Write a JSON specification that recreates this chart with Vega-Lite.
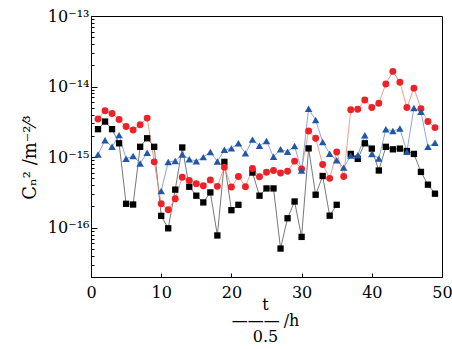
{
  "$schema": "https://vega.github.io/schema/vega-lite/v6.json",
  "width": 351,
  "height": 261,
  "autosize": {"type": "none"},
  "padding": {"left": 91, "top": 16, "right": 10, "bottom": 72},
  "background": "white",
  "config": {"view": {"stroke": "black", "strokeWidth": 1}, "font": "DejaVu Serif", "legend": {"disable": false}},
  "data": {"values": [
    {"t":1,"L":2.49e-15,"C":3.46e-15,"S":1.09e-15},
    {"t":2,"L":3.19e-15,"C":4.54e-15,"S":1.73e-15},
    {"t":3,"L":2.49e-15,"C":4.16e-15,"S":1.40e-15},
    {"t":4,"L":1.57e-15,"C":3.41e-15,"S":2.05e-15},
    {"t":5,"L":2.18e-16,"C":2.71e-15,"S":9.5e-16},
    {"t":6,"L":2.13e-16,"C":2.43e-15,"S":1.04e-15},
    {"t":7,"L":1.40e-15,"C":2.87e-15,"S":8.15e-16},
    {"t":8,"L":1.85e-15,"C":3.57e-15,"S":1.15e-15},
    {"t":9,"L":1.40e-15,"C":8.57e-16,"S":null},
    {"t":10,"L":1.47e-16,"C":2.18e-16,"S":3.32e-16},
    {"t":11,"L":9.8e-17,"C":1.79e-16,"S":8.53e-16},
    {"t":12,"L":3.46e-16,"C":2.57e-16,"S":8.83e-16},
    {"t":13,"L":1.37e-15,"C":5.18e-16,"S":1.09e-15},
    {"t":14,"L":3.8e-16,"C":4.65e-16,"S":9.36e-16},
    {"t":15,"L":2.84e-16,"C":4.21e-16,"S":8.77e-16},
    {"t":16,"L":2.28e-16,"C":3.94e-16,"S":1.0e-15},
    {"t":17,"L":3.16e-16,"C":4.74e-16,"S":1.18e-15},
    {"t":18,"L":7.76e-17,"C":3.85e-16,"S":8.68e-16},
    {"t":19,"L":8.57e-16,"C":7.2e-16,"S":1.27e-15},
    {"t":20,"L":1.77e-16,"C":3.77e-16,"S":1.33e-15},
    {"t":21,"L":2.11e-16,"C":5.3e-16,"S":1.57e-15},
    {"t":22,"L":null,"C":3.81e-16,"S":1.13e-15},
    {"t":23,"L":6.04e-16,"C":6.9e-16,"S":1.77e-15},
    {"t":24,"L":2.84e-16,"C":5.26e-16,"S":1.45e-15},
    {"t":25,"L":3.6e-16,"C":6.1e-16,"S":1.69e-15},
    {"t":26,"L":3.6e-16,"C":6.45e-16,"S":1.01e-15},
    {"t":27,"L":5.06e-17,"C":5.97e-16,"S":1.29e-15},
    {"t":28,"L":1.36e-16,"C":6.3e-16,"S":1.19e-15},
    {"t":29,"L":2.35e-16,"C":8.77e-16,"S":1.44e-15},
    {"t":30,"L":7.4e-17,"C":6.8e-16,"S":6.46e-16},
    {"t":31,"L":1.33e-15,"C":2.35e-15,"S":4.85e-15},
    {"t":32,"L":2.93e-16,"C":1.85e-15,"S":3.36e-15},
    {"t":33,"L":5.4e-16,"C":7.87e-16,"S":1.64e-15},
    {"t":34,"L":1.48e-16,"C":5.0e-16,"S":1.12e-15},
    {"t":35,"L":2.11e-16,"C":1.18e-15,"S":9.0e-16},
    {"t":36,"L":null,"C":5.3e-16,"S":7.1e-16},
    {"t":37,"L":1.11e-15,"C":4.69e-15,"S":1.05e-15},
    {"t":38,"L":9.46e-16,"C":4.77e-15,"S":1.06e-15},
    {"t":39,"L":1.57e-15,"C":6.45e-15,"S":2.04e-15},
    {"t":40,"L":1.32e-15,"C":5.06e-15,"S":1.11e-15},
    {"t":41,"L":6.46e-16,"C":5.81e-15,"S":9.57e-16},
    {"t":42,"L":1.40e-15,"C":1.09e-14,"S":2.49e-15},
    {"t":43,"L":1.29e-15,"C":1.64e-14,"S":2.35e-15},
    {"t":44,"L":1.32e-15,"C":1.15e-14,"S":2.54e-15},
    {"t":45,"L":1.22e-15,"C":5.06e-15,"S":1.19e-15},
    {"t":46,"L":1.11e-15,"C":9.5e-15,"S":4.97e-15},
    {"t":47,"L":6.17e-16,"C":4.85e-15,"S":4.4e-15},
    {"t":48,"L":4.07e-16,"C":3.19e-15,"S":1.40e-15},
    {"t":49,"L":3.03e-16,"C":2.62e-15,"S":1.60e-15}
  ]},
  "transform": [{"fold": ["L", "C", "S"], "as": ["s", "v"]}],
  "encoding": {
    "x": {
      "field": "t", "type": "quantitative",
      "scale": {"domain": [0, 50], "nice": false, "zero": false},
      "axis": {
        "values": [0, 10, 20, 30, 40, 50],
        "tickSize": -4, "tickColor": "black", "domain": false, "grid": false,
        "labelFont": "DejaVu Serif", "labelFontSize": 16, "labelColor": "black",
        "labelPadding": 11, "labelFlush": false,
        "title": ["t", "———\u2005/h", "0.5"],
        "titleFont": "DejaVu Serif", "titleFontSize": 16, "titleFontWeight": "normal", "titleColor": "black",
        "titleX": 174, "titleY": 19, "titleAlign": "center", "titleBaseline": "top", "titleLineHeight": 16
      }
    },
    "y": {
      "field": "v", "type": "quantitative",
      "scale": {"type": "log", "domain": [2e-17, 1e-13], "nice": false},
      "axis": {
        "values": [2e-17,3e-17,4e-17,5e-17,6e-17,7e-17,8e-17,9e-17,1e-16,2e-16,3e-16,4e-16,5e-16,6e-16,7e-16,8e-16,9e-16,1e-15,2e-15,3e-15,4e-15,5e-15,6e-15,7e-15,8e-15,9e-15,1e-14,2e-14,3e-14,4e-14,5e-14,6e-14,7e-14,8e-14,9e-14,1e-13],
        "tickSize": {"condition": {"test": "datum.value == 1e-13 || datum.value == 1e-14 || datum.value == 1e-15 || datum.value == 1e-16", "value": -6}, "value": -3},
        "tickColor": "black", "domain": false, "grid": false,
        "labelExpr": "datum.value == 1e-13 ? '10⁻¹³' : datum.value == 1e-14 ? '10⁻¹⁴' : datum.value == 1e-15 ? '10⁻¹⁵' : datum.value == 1e-16 ? '10⁻¹⁶' : ''",
        "labelFont": "DejaVu Serif", "labelFontSize": 16, "labelColor": "black",
        "labelPadding": 8, "labelOverlap": false, "labelFlush": false,
        "title": "Cₙ² /m⁻²⁄³",
        "titleFont": "DejaVu Serif", "titleFontSize": 18, "titleFontWeight": "normal", "titleColor": "black",
        "titleX": -61, "titleY": 141, "titleAngle": -90, "titleAlign": "center", "titleBaseline": "middle"
      }
    }
  },
  "layer": [
    {
      "mark": {"type": "line", "strokeWidth": 0.8, "invalid": "break-paths-show-domains"},
      "encoding": {
        "stroke": {"field": "s", "type": "nominal", "scale": {"domain": ["L", "C", "S"], "range": ["#555555", "#f4826e", "#6f8fd6"]}, "legend": null}
      }
    },
    {
      "mark": {"type": "point", "filled": true, "opacity": 1},
      "encoding": {
        "color": {
          "field": "s", "type": "nominal",
          "scale": {"domain": ["L", "C", "S"], "range": ["#000000", "#ec2228", "#2156a8"]},
          "legend": {
            "orient": "top-left", "offset": 10, "title": null,
            "labelFont": "DejaVu Serif", "labelFontSize": 13, "labelColor": "black", "labelLimit": 400,
            "labelOffset": 35, "rowPadding": 6,
            "labelExpr": "datum.value == 'L' ? 'value from light spot image' : datum.value == 'C' ? 'value from coherence length meter' : 'value from scintillometer'",
            "encode": {"symbols": {"update": {
              "shape": {"signal": "datum.value == 'L' ? 'M-1.6,0H2.45M4.35,0H8.4M2.45,-0.95H4.35V0.95H2.45Z' : datum.value == 'C' ? 'M-1.6,0H2.35M4.45,0H8.4M2.35,0A1.05,1.05,0,1,0,4.45,0A1.05,1.05,0,1,0,2.35,0Z' : 'M-1.6,0H2.65M4.15,0H8.4M3.4,-1.2L4.55,0.85H2.25Z'"},
              "size": {"value": 49},
              "stroke": {"signal": "datum.value == 'L' ? '#555555' : datum.value == 'C' ? '#f4826e' : '#6f8fd6'"},
              "strokeWidth": {"value": 0.8}
            }}}
          }
        },
        "shape": {"field": "s", "type": "nominal", "scale": {"domain": ["L", "C", "S"], "range": ["square", "circle", "triangle-up"]}, "legend": null},
        "size": {"field": "s", "type": "nominal", "scale": {"domain": ["L", "C", "S"], "range": [40, 56, 64]}, "legend": null}
      }
    }
  ]
}
